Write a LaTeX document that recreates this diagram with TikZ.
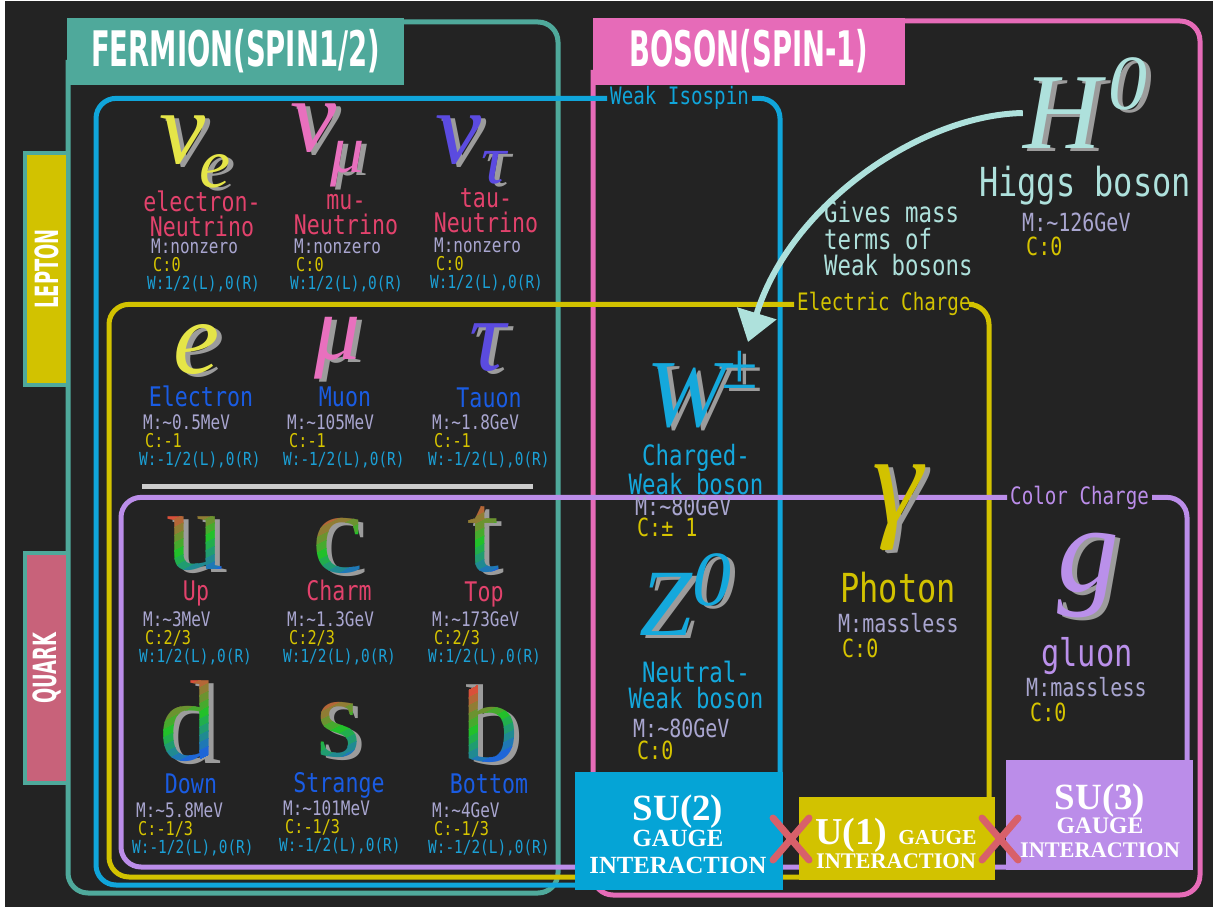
\documentclass[tikz,border=0pt]{standalone}
\usepackage{fontspec}
\setmainfont{Liberation Serif}
\newfontfamily\labelfont{DejaVu Sans Mono}[FakeStretch=0.8]
\newfontfamily\titlefont{DejaVu Sans}[FakeStretch=0.56]
\newfontfamily\glyphfont{Liberation Serif}
\usetikzlibrary{arrows.meta}
\definecolor{cbg}{HTML}{232323}
\definecolor{cteal}{HTML}{4FA99B}
\definecolor{cpink}{HTML}{E66BB8}
\definecolor{cblue}{HTML}{10A5DA}
\definecolor{cbluebox}{HTML}{05A4D6}
\definecolor{cyellow}{HTML}{D2C200}
\definecolor{cpurple}{HTML}{BB8DE9}
\definecolor{cquark}{HTML}{C8627A}
\definecolor{cnred}{HTML}{E2426C}
\definecolor{cnblue}{HTML}{1A5CE3}
\definecolor{cmass}{HTML}{A9A6D0}
\definecolor{cclab}{HTML}{D6C400}
\definecolor{cweak}{HTML}{1BA0D6}
\definecolor{chiggs}{HTML}{AEE1DC}
\definecolor{cshadow}{HTML}{9C9C9C}
\definecolor{cnuy}{HTML}{E5E548}
\definecolor{cmup}{HTML}{E870BE}
\definecolor{ctaup}{HTML}{5B4BE0}
\definecolor{cwboson}{HTML}{14A8DC}
\definecolor{cgluon}{HTML}{BA90EA}
\definecolor{cx}{HTML}{D8606A}
\definecolor{csep}{HTML}{CCCCCC}
\definecolor{qred}{HTML}{D9503A}
\definecolor{qgreen}{HTML}{22C02A}
\definecolor{qblue}{HTML}{1E66D8}
\newcommand{\fsz}[2]{\fontsize{#1pt}{#2pt}\selectfont}
\tikzset{
  frame/.style={draw=#1, line width=5pt, rounded corners=20pt},
  titlebox/.style={fill=#1, text=white, font=\titlefont\bfseries\fsz{49}{50}, inner sep=0pt},
  sidebox/.style={fill=#1, draw=cteal, line width=4pt, text=white, font=\titlefont\bfseries\fsz{32}{32}, rotate=90, inner sep=0pt},
  gaugebox/.style={fill=#1, inner sep=0pt},
  gaugetext/.style={text=white, font=\glyphfont\bfseries\fsz{24.7}{26.5}, align=center, anchor=base, inner sep=0pt},
  framelabel/.style={font=\labelfont\fsz{24}{26}, text=#1, inner sep=3pt, anchor=base west},
  pname/.style={font=\labelfont\fsz{27}{25}, text=#1, align=center, anchor=base, inner sep=0pt},
  mlab/.style={font=\labelfont\fsz{20}{22}, text=cmass, anchor=mid west, inner sep=0pt},
  clab/.style={font=\labelfont\fsz{19}{21}, text=cclab, anchor=mid west, inner sep=0pt},
  wlab/.style={font=\labelfont\fsz{18}{20}, text=cweak, anchor=mid west, inner sep=0pt},
  bmlab/.style={mlab, font=\labelfont\fsz{25}{27}},
  bclab/.style={clab, font=\labelfont\fsz{25}{27}},
  glyph/.style={font=\glyphfont\itshape\fsz{#1}{#1}, inner sep=0pt},
  qglyph/.style={font=\glyphfont\fsz{115}{115}, inner sep=0pt},
}

\begin{document}
\begin{tikzpicture}[
    x=1pt, y=-1pt,
    note/.style={font=\labelfont\fsz{28}{26.5}, text=chiggs, align=left, anchor=base west, inner sep=0pt},
    bigname/.style={pname=#1, font=\labelfont\fsz{40}{40}},
    massarrow/.style={draw=chiggs, line width=6pt, -{Triangle[length=30pt, width=40pt]}},
    redx/.style={draw=cx, line width=7pt, line cap=round},
    sep/.style={draw=csep, line width=5pt},
  ]
  \newcommand{\glyphat}[6]{%
    \node[glyph=#4, text=cshadow] (#1-sh) at ({#2+5},{#3+3}) {#6};
    \node[glyph=#4, text=#5] (#1) at (#2,#3) {#6};}
  \newcommand{\quarkat}[4]{%
    \node[qglyph, text=cshadow] (#1-sh) at ({#2+5},{#3+3}) {#4};
    \foreach \i in {0,...,10}{%
      \ifnum\i<6\relax \pgfmathtruncatemacro{\p}{100-20*\i}\def\qc{qred!\p!qgreen}%
      \else \pgfmathtruncatemacro{\p}{100-20*(\i-5)}\def\qc{qgreen!\p!qblue}\fi
      \begin{scope}
        \clip[rotate around={27:(#2,#3)}] ({#2-90},{#3-39+7*\i}) rectangle ({#2+90},{#3-31+7*\i});
        \node[qglyph, text=\qc] (#1-\i) at (#2,#3) {#4};
      \end{scope}}}
  \newcommand{\props}[6]{%
    \node[mlab] (#1-m) at (#2,#3) {#4};
    \node[clab] (#1-c) at ({#2+2},{#3+18}) {#5};
    \node[wlab] (#1-w) at ({#2-4},{#3+36}) {#6};}

  \useasboundingbox (0,0) rectangle (1213,909);
  \fill[white] (0,0) rectangle (1213,909);
  \fill[cbg] (5,1) rectangle (1213,907);

  % frames
  \draw[frame=cteal] (380,22) -- (558,22) -- (558,893) -- (68,893) -- (68,60);
  \draw[frame=cpink] (880,21) -- (1200,21) -- (1200,895) -- (593,895) -- (593,70);
  \node[framelabel=cblue] (isospin) at (607,105) {Weak Isospin};
  \node[framelabel=cyellow] (echarge) at (794,311) {Electric Charge};
  \node[framelabel=cpurple] (colorcharge) at (1007,504) {Color Charge};
  \draw[frame=cblue] (isospin.west) -| (96,885) -- (578,885);
  \draw[frame=cblue] (isospin.east) -| (780,776);
  \draw[frame=cyellow] (echarge.west) -| (109,877) -- (802,877);
  \draw[frame=cyellow] (echarge.east) -| (989,800);
  \draw[frame=cpurple] (colorcharge.west) -| (121,867) -- (1008,867);
  \draw[frame=cpurple] (colorcharge.east) -| (1187,763);

  % titles
  \node[titlebox=cteal, minimum width=337pt, minimum height=67pt] (fermion) at (235.5,51.5) {FERMION(SPIN1/2)};
  \node[titlebox=cpink, minimum width=312pt, minimum height=67pt] (boson) at (749,51.5) {BOSON(SPIN-1)};
  \node[sidebox=cyellow, minimum width=232pt, minimum height=43pt] (lepton) at (46.5,269) {LEPTON};
  \node[sidebox=cquark, minimum width=230pt, minimum height=43pt] (quark) at (46.5,668) {QUARK};
  \draw[sep] (142,486) -- (533,486);

  % leptons
  \glyphat{nue}{183}{140}{104}{cnuy}{ν}
  \glyphat{nue-e}{215}{171}{70}{cnuy}{e}
  \glyphat{numu}{314}{128}{104}{cmup}{ν}
  \glyphat{numu-mu}{348}{164}{68}{cmup}{μ}
  \glyphat{nutau}{459}{140}{104}{ctaup}{ν}
  \glyphat{nutau-tau}{494}{168}{70}{ctaup}{τ}
  \node[pname=cnred] (nue-name) at (202,237) {electron-\\Neutrino};
  \node[pname=cnred] (numu-name) at (346,235) {mu-\\Neutrino};
  \node[pname=cnred] (nutau-name) at (486,233) {tau-\\Neutrino};
  \props{nue}{151}{251}{M:nonzero}{C:0}{W:1/2(L),0(R)}
  \props{numu}{294}{251}{M:nonzero}{C:0}{W:1/2(L),0(R)}
  \props{nutau}{434}{250}{M:nonzero}{C:0}{W:1/2(L),0(R)}

  \glyphat{elec}{197}{350}{104}{cnuy}{e}
  \glyphat{muon}{338}{348}{92}{cmup}{μ}
  \glyphat{tauon}{488}{348}{102}{ctaup}{τ}
  \node[pname=cnblue] (elec-name) at (201,406) {Electron};
  \node[pname=cnblue] (muon-name) at (345,406) {Muon};
  \node[pname=cnblue] (tauon-name) at (489,407) {Tauon};
  \props{elec}{143}{427}{M:\textasciitilde 0.5MeV}{C:-1}{W:-1/2(L),0(R)}
  \props{muon}{287}{427}{M:\textasciitilde 105MeV}{C:-1}{W:-1/2(L),0(R)}
  \props{tauon}{432}{427}{M:\textasciitilde 1.8GeV}{C:-1}{W:-1/2(L),0(R)}

  % quarks
  \quarkat{up}{195}{544}{u}
  \quarkat{charm}{338}{546}{c}
  \quarkat{top}{483}{540}{t}
  \node[pname=cnred] (up-name) at (196,600) {Up};
  \node[pname=cnred] (charm-name) at (339,600) {Charm};
  \node[pname=cnred] (top-name) at (484,601) {Top};
  \props{up}{143}{624}{M:\textasciitilde 3MeV}{C:2/3}{W:1/2(L),0(R)}
  \props{charm}{287}{624}{M:\textasciitilde 1.3GeV}{C:2/3}{W:1/2(L),0(R)}
  \props{top}{432}{624}{M:\textasciitilde 173GeV}{C:2/3}{W:1/2(L),0(R)}

  \quarkat{down}{188}{721}{d}
  \quarkat{strange}{339}{730}{s}
  \quarkat{bottom}{490}{722}{b}
  \node[pname=cnblue] (down-name) at (191,793) {Down};
  \node[pname=cnblue] (strange-name) at (339,792) {Strange};
  \node[pname=cnblue] (bottom-name) at (489,793) {Bottom};
  \props{down}{136}{815}{M:\textasciitilde 5.8MeV}{C:-1/3}{W:-1/2(L),0(R)}
  \props{strange}{283}{813}{M:\textasciitilde 101MeV}{C:-1/3}{W:-1/2(L),0(R)}
  \props{bottom}{432}{815}{M:\textasciitilde 4GeV}{C:-1/3}{W:-1/2(L),0(R)}

  % bosons
  \glyphat{higgs}{1062}{113}{108}{chiggs}{H}
  \glyphat{higgs0}{1128}{84}{78}{chiggs}{0}
  \node[bigname=chiggs] (higgs-name) at (1085,197) {Higgs boson};
  \node[bmlab] (higgs-m) at (1022,229) {M:\textasciitilde 126GeV};
  \node[bclab] (higgs-c) at (1026,253) {C:0};
  \node[note] (massnote) at (824,276) {Gives mass\\terms of\\Weak bosons};

  \glyphat{wboson}{686}{396}{96}{cwboson}{W}
  \glyphat{wpm}{740}{370}{66}{cwboson}{±}
  \node[pname=cwboson, font=\labelfont\fsz{28}{26}] (wboson-name) at (696,494) {Charged-\\Weak boson};
  \node[bmlab] (wboson-m) at (635,513) {M:\textasciitilde 80GeV};
  \node[bclab] (wboson-c) at (637,534) {C:± 1};

  \glyphat{zboson}{666}{604}{95}{cwboson}{Z}
  \glyphat{z0}{712}{580}{78}{cwboson}{0}
  \node[pname=cwboson, font=\labelfont\fsz{28}{26}] (zboson-name) at (696,708) {Neutral-\\Weak boson};
  \node[bmlab] (zboson-m) at (633,735) {M:\textasciitilde 80GeV};
  \node[bclab] (zboson-c) at (637,757) {C:0};

  \glyphat{photon}{898}{508}{128}{cyellow}{γ}
  \node[bigname=cyellow] (photon-name) at (898,602) {Photon};
  \node[bmlab] (photon-m) at (838,630) {M:massless};
  \node[bclab] (photon-c) at (842,655) {C:0};

  \glyphat{gluon}{1088}{576}{124}{cgluon}{g}
  \node[bigname=cgluon, font=\labelfont\fsz{38}{38}] (gluon-name) at (1087,666) {gluon};
  \node[bmlab] (gluon-m) at (1026,694) {M:massless};
  \node[bclab] (gluon-c) at (1030,719) {C:0};

  % gauge groups
  \node[gaugebox=cbluebox, minimum width=208pt, minimum height=118pt] (su2) at (679,831) {};
  \node[gaugebox=cyellow, minimum width=196pt, minimum height=83pt] (u1) at (897,838.5) {};
  \node[gaugebox=cpurple, minimum width=187pt, minimum height=110pt] (su3) at (1099.5,815) {};
  \node[gaugetext] (su2-text) at (678,873) {{\fsz{37}{30}SU(2)}\\GAUGE\\INTERACTION};
  \node[gaugetext, font=\glyphfont\bfseries\fsz{22.3}{24}] (u1-text) at (896,868) {{\fsz{38}{30}U(1)}\ \ {\fsz{21.3}{24}GAUGE}\\INTERACTION};
  \node[gaugetext, font=\glyphfont\bfseries\fsz{22.3}{24}] (su3-text) at (1100,857) {{\fsz{37}{30}SU(3)}\\{\fsz{23.7}{24}GAUGE}\\INTERACTION};
  \draw[redx] (773,818) -- (809,860) (809,818) -- (773,860);
  \draw[redx] (982,818) -- (1018,860) (1018,818) -- (982,860);

  % higgs gives mass
  \coordinate (wtip) at (748,342);
  \draw[massarrow] (higgs.west) .. controls (920,115) and (790,205) .. (wtip);
\end{tikzpicture}
\end{document}
